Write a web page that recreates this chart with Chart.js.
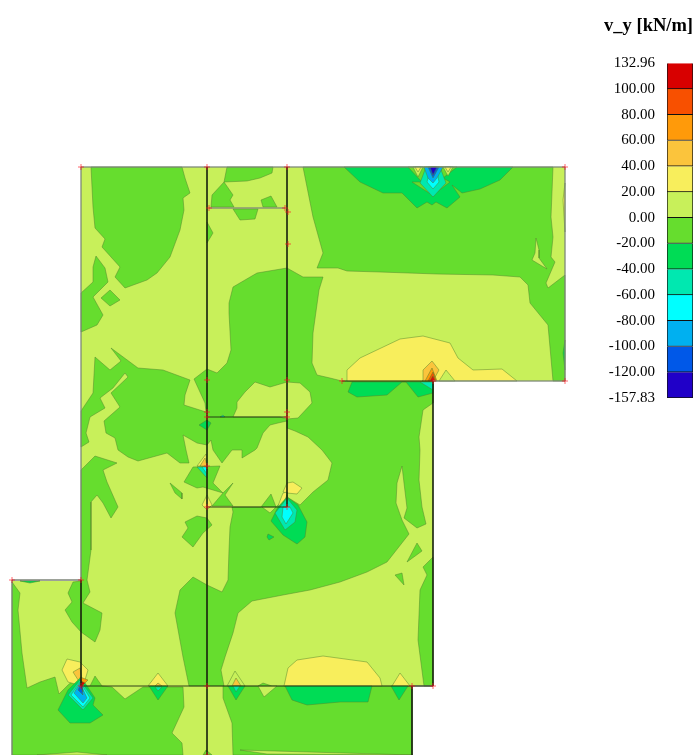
<!DOCTYPE html>
<html>
<head>
<meta charset="utf-8">
<script src="https://cdn.jsdelivr.net/npm/chart.js@4"></script>
<style>
html, body { margin: 0; padding: 0; background: #fff; overflow: hidden; }
canvas { position: absolute; top: 0; }
#plate { left: 0; }
#scale { left: 585px; }
</style>
</head>
<body>
<canvas id="plate" width="695" height="755"></canvas>
<canvas id="scale" width="110" height="412"></canvas>
<script>
// legend classes, top to bottom
var tickLabels = ["132.96", "100.00", "80.00", "60.00", "40.00", "20.00", "0.00", "-20.00", "-40.00", "-60.00", "-80.00", "-100.00", "-120.00", "-157.83"];
var classes = ["c12", "c11", "c10", "c9", "c8", "c7", "c6", "c5", "c4", "c3", "c2", "c1", "c0"];
var classColors = ["#d80000", "#f85000", "#ff9a0a", "#fbc43c", "#f8ee5c", "#c8f05a", "#66dd2e", "#00dc55", "#00e8b0", "#00ffff", "#00b0f0", "#0058e8", "#2000c8"];
var classWidths = [1, 1, 1, 1, 1, 1, 1, 1, 1, 1, 1, 1, 1];

// contour regions, in plate units
var plate = [[81,167],[565,167],[565,381],[433,381],[433,686],[412,686],[412,755],[12,755],[12,581],[81,581]];

var topLeftBlob = [[91,167],[92,187],[93,207],[95,228],[105,239],[102,247],[120,267],[115,277],[125,288],[147,280],[157,273],[170,257],[180,230],[184,210],[183,198],[190,193],[185,178],[182,167]];
var leftBlob = [[81,293],[93,282],[93,267],[96,256],[105,268],[108,282],[93,297],[103,315],[97,325],[81,332]];
var leftDiamond = [[101,298],[110,290],[120,300],[110,306]];
var topMid = [[227,167],[224,182],[212,195],[211,207],[234,207],[230,200],[233,195],[224,182],[247,181],[260,178],[272,173],[273,167]];
var topMid2 = [[261,200],[271,196],[277,207],[263,207]];
var topMid3 = [[233,209],[258,209],[255,219],[240,220]];
var sliver = [[207,222],[213,233],[207,243]];
var centre = [[233,287],[257,273],[287,268],[303,277],[323,277],[319,290],[313,333],[312,363],[317,375],[330,378],[342,381],[433,381],[433,403],[423,410],[419,437],[420,450],[419,480],[422,507],[426,524],[417,528],[404,518],[407,508],[404,483],[402,466],[397,483],[396,503],[402,520],[409,534],[387,562],[367,572],[340,582],[310,590],[283,595],[252,601],[238,613],[233,633],[225,657],[221,670],[224,686],[189,686],[183,657],[175,613],[180,590],[193,577],[207,585],[222,592],[228,580],[229,550],[230,527],[233,512],[232,507],[261,507],[271,494],[276,507],[287,497],[300,505],[313,492],[328,480],[332,463],[322,450],[308,437],[295,431],[287,428],[287,421],[278,423],[270,425],[263,433],[257,448],[255,450],[242,458],[242,450],[232,450],[222,463],[213,450],[211,440],[207,445],[197,443],[183,435],[186,450],[189,463],[180,463],[167,453],[138,461],[128,457],[118,450],[115,438],[106,433],[104,421],[120,407],[111,393],[128,377],[125,373],[113,388],[100,398],[105,408],[90,417],[86,433],[89,442],[81,447],[81,411],[93,393],[95,357],[110,370],[121,361],[111,348],[138,368],[163,370],[190,380],[185,395],[184,405],[206,412],[205,403],[194,379],[207,369],[217,373],[227,363],[231,350],[229,313],[229,303]];
var leftStrip = [[81,470],[95,456],[117,463],[103,470],[107,482],[118,507],[111,518],[103,503],[97,495],[91,502],[91,550],[87,580],[90,592],[83,603],[102,613],[100,630],[95,642],[81,632],[72,622],[65,610],[72,602],[68,593],[73,582],[81,581]];
var blob1 = [[170,483],[182,493],[182,499],[175,493]];
var blob2 = [[185,522],[197,516],[207,518],[212,525],[203,533],[193,547],[182,537],[188,528]];
var cross1 = [[184,482],[193,467],[220,466],[213,483],[223,493],[203,487],[197,488]];
var cross2 = [[223,493],[233,483],[225,495],[233,506],[212,506]];
var topRight = [[303,167],[313,217],[323,253],[317,268],[338,268],[347,271],[380,272],[437,274],[493,275],[520,277],[528,285],[530,303],[548,325],[553,381],[565,381],[565,275],[548,288],[546,283],[555,262],[551,257],[553,237],[551,217],[553,167]];
var rightDark = [[433,557],[423,567],[427,575],[420,590],[418,640],[424,686],[433,686]];
var islet1 = [[407,562],[417,543],[422,551]];
var islet2 = [[395,575],[402,573],[404,585]];
var lowerLeft = [[12,582],[20,593],[18,610],[22,653],[27,688],[40,682],[55,677],[59,694],[68,685],[80,675],[82,686],[90,686],[95,676],[102,686],[112,687],[125,699],[143,687],[183,687],[184,707],[172,733],[182,743],[183,755],[12,755]];
var lowerRight = [[223,686],[258,686],[263,683],[272,686],[412,686],[412,755],[233,755],[232,723],[223,698]];

var lobe = [[233,417],[237,408],[237,402],[245,392],[255,382],[270,387],[287,382],[300,383],[310,392],[312,403],[298,418],[287,419],[280,417]];
var rightNotch = [[536,238],[539,250],[539,258],[547,269],[532,260],[535,253]];
var wedge = [[262,507],[270,513],[276,507]];
var lowerNotch = [[258,686],[264,697],[277,686]];
var footLight1 = [[37,755],[77,752],[107,755]];
var footLight2 = [[240,750],[267,754],[413,755]];
var footDark = [[203,755],[206,750],[212,755]];

var arc = [[344,167],[360,182],[383,193],[402,193],[417,208],[427,202],[432,205],[436,202],[447,208],[460,197],[452,185],[462,193],[480,189],[500,180],[513,167]];
var arcInner = [[408,167],[422,182],[412,182],[429,193],[437,192],[450,182],[443,178],[457,167]];
var arcTeal = [[420,183],[426,167],[440,167],[446,183],[433,197]];
var arcCyan = [[427,182],[431,167],[436,167],[439,182],[433,189]];
var arcBlue = [[424,167],[443,167],[437,178],[433,183],[428,178]];
var arcRoyal = [[428,167],[439,167],[433,178]];
var arcViolet = [[430,167],[437,167],[433,175]];
var arcLight1 = [[413,167],[418,177],[423,167]];
var arcLight2 = [[443,167],[448,176],[453,167]];
var arcYellow1 = [[415,167],[418,172],[421,167]];
var arcYellow2 = [[445,167],[448,172],[451,167]];

var bigYellow = [[347,381],[347,370],[360,358],[400,339],[423,336],[450,343],[458,358],[473,370],[502,369],[517,381]];
var edgeYellow = [[565,183],[563,200],[565,232]];
var edgeGreen = [[565,340],[563,353],[565,370]];
var peakAmber = [[423,370],[432,361],[439,370],[433,381],[422,381]];
var peakOrange = [[425,381],[432,368],[437,381]];
var peakVermilion = [[428,381],[433,372],[436,381]];
var peakRed = [[430,381],[433,376],[435,381]];
var peakLight = [[439,381],[446,370],[455,381]];
var underGreen = [[352,382],[348,392],[357,397],[387,395],[402,382],[406,382],[418,397],[433,393],[433,382]];
var underTeal = [[420,382],[433,390],[433,382]];

var footYellow = [[284,686],[288,668],[297,660],[323,656],[367,662],[380,678],[382,686]];
var footGreen = [[285,686],[372,686],[368,702],[340,702],[307,705],[292,700]];
var midYellow = [[227,686],[235,671],[245,686]];
var midAmber = [[232,686],[236,678],[241,686]];
var midGreen = [[228,686],[236,700],[245,686]];
var midTeal = [[233,686],[236,692],[240,686]];
var eastYellow = [[392,686],[400,673],[410,686]];
var eastGreen = [[391,686],[399,700],[408,686]];
var westYellow = [[148,686],[158,673],[168,686]];
var westAmber = [[155,686],[158,683],[162,686]];
var westGreen = [[149,686],[158,700],[168,686]];
var westTeal = [[155,687],[158,691],[162,687]];

var hotGreen = [[58,710],[68,690],[81,677],[95,698],[93,705],[103,715],[90,723],[70,723]];
var hotTeal = [[68,695],[80,680],[93,698],[83,710]];
var hotCyan = [[71,695],[80,682],[90,698],[83,707]];
var hotBlue = [[74,693],[80,683],[87,698],[83,703]];
var hotRoyal = [[78,690],[81,683],[83,695]];
var hotViolet = [[80,686],[82,684],[83,692]];
var hotYellow = [[62,670],[67,659],[80,662],[88,670],[85,680],[82,686],[68,682]];
var hotAmber = [[73,672],[80,668],[82,680],[80,683]];
var hotOrange = [[80,677],[88,680],[82,686]];
var hotRed = [[81,681],[85,683],[82,686]];

var coreGreen = [[287,497],[298,505],[307,522],[305,537],[297,544],[283,535],[271,521],[278,507]];
var coreTeal = [[275,513],[280,507],[287,498],[297,510],[295,522],[285,530]];
var coreCyan = [[283,507],[290,507],[293,513],[286,524],[282,517]];
var coreYellow = [[287,483],[293,482],[302,488],[297,494],[287,493],[283,492]];
var coreStreak = [[278,506],[283,493],[287,492],[287,506]];
var coreAmber = [[282,506],[287,495],[287,506]];
var coreOrange = [[285,506],[287,501],[287,506]];
var coreIslet = [[267,537],[268,534],[274,537],[269,540]];

var nodeYellow = [[197,466],[206,454],[207,466]];
var nodeAmber = [[200,466],[205,458],[207,466]];
var nodeTeal = [[197,467],[207,478],[207,467]];
var nodeCyan = [[202,467],[207,474],[207,467]];
var stepYellow = [[202,505],[207,495],[212,505],[207,510]];
var stepGreen = [[199,425],[207,420],[211,423],[207,430]];
var stepTeal = [[220,417],[223,415],[225,417]];
var cornerGreen = [[20,581],[30,583],[40,581]];

// structural lines and node marks
var wallA = [[207,167],[207,755]];
var wallB = [[287,167],[287,507]];
var wallC = [[207,417],[287,417]];
var wallD = [[207,507],[287,507]];
var wallE = [[81,686],[433,686]];
var wallF = [[81,580],[81,686]];
var wallG = [[12,580],[81,580]];
var wallH = [[433,381],[433,686]];
var wallI = [[412,686],[412,755]];
var wallJ = [[342,381],[433,381]];
var greyA = [[81,167],[565,167]];
var greyB = [[81,167],[81,580]];
var greyC = [[12,580],[12,755]];
var greyD = [[209,208],[285,208]];
var greyE = [[433,381],[565,381]];
var greyF = [[565,167],[565,381]];
var greyG = [[412,686],[433,686]];
var nodes = [[81,167],[207,167],[287,167],[565,167],[209,208],[285,208],[288,212],[288,244],[207,380],[287,380],[207,412],[287,412],[207,417],[287,417],[342,381],[433,381],[565,381],[207,466],[207,507],[287,507],[12,580],[81,580],[81,686],[207,686],[412,686],[433,686],[207,755]];

var light = classColors[5], dark = classColors[6], green = classColors[7], teal = classColors[8];
var cyan = classColors[9], sky = classColors[10], royal = classColors[11], violet = classColors[12];
var yellow = classColors[4], amber = classColors[3], orange = classColors[2], verm = classColors[1], red = classColors[0];

// painted in this order, later ones on top
var layers = [
    [plate, light],
    [topLeftBlob, dark], [leftBlob, dark], [leftDiamond, dark], [topMid, dark], [topMid2, dark], [topMid3, dark], [sliver, dark],
    [centre, dark], [leftStrip, dark], [blob1, dark], [blob2, dark], [cross1, dark], [cross2, dark], [topRight, dark],
    [rightDark, dark], [islet1, dark], [islet2, dark], [lowerLeft, dark], [lowerRight, dark],
    [lobe, light], [rightNotch, light], [wedge, light], [lowerNotch, light], [footLight1, light], [footLight2, light], [footDark, dark],
    [arc, green], [arcInner, dark], [arcLight1, light], [arcLight2, light], [arcYellow1, yellow], [arcYellow2, yellow],
    [arcTeal, teal], [arcCyan, cyan], [arcBlue, sky], [arcRoyal, royal], [arcViolet, violet],
    [edgeYellow, yellow], [edgeGreen, green],
    [bigYellow, yellow], [peakAmber, amber], [peakOrange, orange], [peakVermilion, verm], [peakRed, red], [peakLight, light],
    [underGreen, green], [underTeal, teal],
    [footYellow, yellow], [footGreen, green],
    [midYellow, light], [midAmber, amber], [midGreen, green], [midTeal, teal],
    [eastYellow, yellow], [eastGreen, green],
    [westYellow, yellow], [westAmber, amber], [westGreen, green], [westTeal, teal],
    [hotYellow, yellow], [hotAmber, amber], [hotGreen, green], [hotTeal, teal], [hotCyan, cyan], [hotBlue, sky], [hotRoyal, royal], [hotViolet, violet], [hotOrange, orange], [hotRed, red],
    [coreYellow, yellow], [coreStreak, yellow], [coreAmber, amber], [coreOrange, orange], [coreGreen, green], [coreTeal, teal], [coreCyan, cyan], [coreIslet, green],
    [nodeYellow, yellow], [nodeAmber, amber], [nodeTeal, teal], [nodeCyan, cyan], [stepYellow, yellow], [stepGreen, green], [stepTeal, teal], [cornerGreen, green]
];

function toPoints(list) {
    return list.map(function (p) { return {x: p[0], y: p[1]}; });
}

var datasets = [];
datasets.push({
    type: 'scatter',
    data: toPoints(nodes),
    pointStyle: 'cross',
    pointRadius: 3,
    pointBorderColor: 'rgba(255,20,30,0.65)',
    pointBorderWidth: 1,
    showLine: false
});
[wallA, wallB, wallC, wallD, wallE, wallF, wallG, wallH, wallI, wallJ].forEach(function (l) {
    datasets.push({data: toPoints(l), showLine: true, pointRadius: 0, borderColor: 'rgba(25,35,15,0.85)', borderWidth: 1, fill: false});
});
[greyA, greyB, greyC, greyD, greyE, greyF, greyG].forEach(function (l) {
    datasets.push({data: toPoints(l), showLine: true, pointRadius: 0, borderColor: 'rgba(125,135,120,0.85)', borderWidth: 1.5, fill: false});
});
// first dataset is drawn last, so walk the layers backwards
for (var i = layers.length - 1; i >= 0; i--) {
    var pts = toPoints(layers[i][0]);
    pts.push(pts[0]);
    datasets.push({
        data: pts,
        showLine: true,
        tension: 0,
        pointRadius: 0,
        borderColor: i === 0 ? 'rgba(0,0,0,0)' : 'rgba(80,130,45,0.6)',
        borderWidth: 0.8,
        backgroundColor: layers[i][1],
        fill: 'shape'
    });
}

new Chart(document.getElementById('plate'), {
    type: 'scatter',
    data: {datasets: datasets},
    options: {
        responsive: false,
        animation: false,
        layout: {padding: 0, autoPadding: false},
        plugins: {legend: {display: false}, tooltip: {enabled: false}},
        scales: {
            x: {type: 'linear', display: false, min: 0, max: 695},
            y: {type: 'linear', display: false, min: 0, max: 755, reverse: true}
        }
    }
});

new Chart(document.getElementById('scale'), {
    type: 'bar',
    data: {
        labels: ['v_y'],
        datasets: classes.map(function (name, i) {
            return {label: name, data: [classWidths[i]], backgroundColor: classColors[i], borderColor: '#101010', borderWidth: 1, stack: 's'};
        })
    },
    options: {
        responsive: false,
        animation: false,
        layout: {padding: {top: 0, right: 2, bottom: 14, left: 0}, autoPadding: false},
        plugins: {
            legend: {display: false},
            tooltip: {enabled: false},
            title: {
                display: true,
                text: 'v_y [kN/m]',
                align: 'end',
                color: '#000',
                font: {family: '"Liberation Serif"', size: 18.5, weight: 'bold'},
                padding: {top: 15, bottom: 26}
            }
        },
        datasets: {bar: {barPercentage: 1, categoryPercentage: 1}},
        scales: {
            x: {stacked: true, display: false},
            y: {
                stacked: true,
                reverse: true,
                min: 0,
                max: tickLabels.length - 1,
                afterFit: function (scale) { scale.width = 82; },
                grid: {display: false},
                border: {display: false},
                ticks: {
                    stepSize: 1,
                    autoSkip: false,
                    color: '#000',
                    padding: 4,
                    font: {family: '"Liberation Serif"', size: 15},
                    callback: function (value) { return tickLabels[value]; }
                }
            }
        }
    }
});
</script>
</body>
</html>
